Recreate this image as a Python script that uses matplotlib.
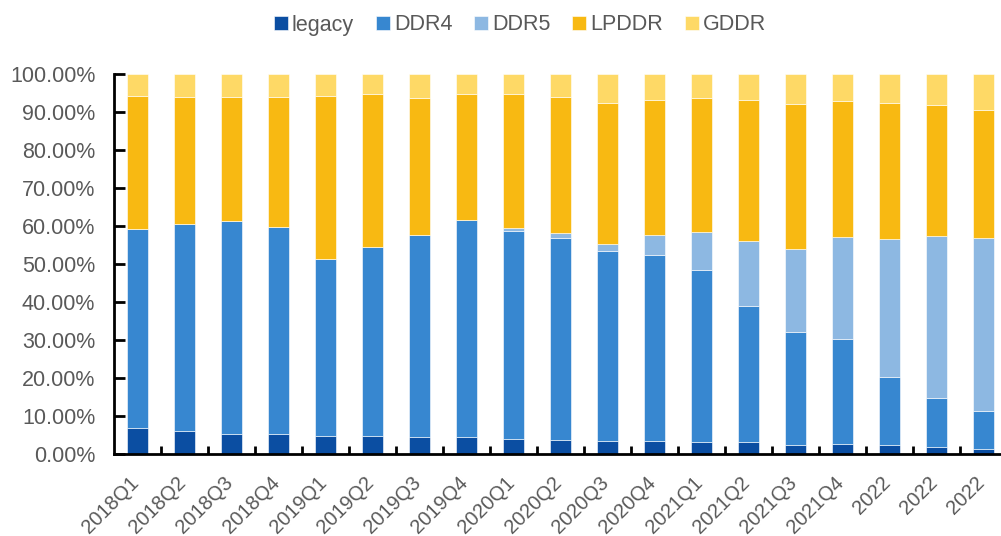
import numpy as np
import matplotlib
matplotlib.use("Agg")
from matplotlib import pyplot as plt
from matplotlib.ticker import FuncFormatter, FixedLocator
from matplotlib.transforms import ScaledTranslation

#------------- 数据 ---------------------#
quarters = ['2018Q1', '2018Q2', '2018Q3', '2018Q4', '2019Q1', '2019Q2', '2019Q3', '2019Q4',
            '2020Q1', '2020Q2', '2020Q3', '2020Q4', '2021Q1', '2021Q2', '2021Q3', '2021Q4',
            '2022', '2022', '2022']
# 累计高度（%）
cum_legacy = [6.8, 6.0, 5.2, 5.2, 4.7, 4.7, 4.3, 4.3, 3.9, 3.5, 3.4, 3.4, 2.9, 2.9, 2.3, 2.6, 2.2, 1.8, 1.1]
cum_ddr4 = [59.1, 60.5, 61.2, 59.7, 51.3, 54.3, 57.6, 61.6, 58.7, 56.9, 53.4, 52.3, 48.3, 38.8, 32.0, 30.1, 20.2, 14.6, 11.2]
cum_ddr5 = [59.1, 60.5, 61.2, 59.7, 51.3, 54.3, 57.6, 61.6, 59.3, 58.0, 55.1, 57.6, 58.3, 56.0, 53.9, 57.0, 56.5, 57.4, 56.9]
cum_lpddr = [94.1, 94.0, 94.0, 94.0, 94.1, 94.8, 93.7, 94.6, 94.6, 94.0, 92.3, 93.2, 93.7, 93.2, 92.1, 93.0, 92.4, 91.7, 90.4]

legacy = np.array(cum_legacy)
ddr4 = np.array(cum_ddr4) - np.array(cum_legacy)
ddr5 = np.array(cum_ddr5) - np.array(cum_ddr4)
lpddr = np.array(cum_lpddr) - np.array(cum_ddr5)
gddr = 100 - np.array(cum_lpddr)

names = ['legacy', 'DDR4', 'DDR5', 'LPDDR', 'GDDR']
series = [legacy, ddr4, ddr5, lpddr, gddr]
colors = ['#0B4EA2', '#3787D0', '#8DB8E2', '#F8B912', '#FED966']

#------------- 画图 ---------------------#
plt.rcParams['font.family'] = ['Liberation Sans', 'DejaVu Sans']
txt = '#595959'

fig = plt.figure(figsize=(10.01, 5.36), dpi=100)
ax = fig.add_axes([114 / 1001, 82.5 / 536, 887 / 1001, 379.5 / 536])

x = np.arange(len(quarters))
bottom = np.zeros(len(quarters))
for name, vals, c in zip(names, series, colors):
    ax.bar(x, vals, 0.46, bottom=bottom, color=c, label=name, edgecolor='white', linewidth=0.4)
    bottom = bottom + vals

ax.set_ylim(0, 100)
ax.set_xlim(-0.5, -0.5 + 887 / 47.0)
ax.set_yticks(np.arange(0, 101, 10))
ax.yaxis.set_major_formatter(FuncFormatter(lambda v, p: '%.2f%%' % v))

# x轴：刻度在类别之间，标签在中间
ax.xaxis.set_major_locator(FixedLocator(x[:-1] + 0.5))
ax.xaxis.set_major_formatter(FuncFormatter(lambda v, p: ''))
ax.set_xticks(x, minor=True)
ax.set_xticklabels(quarters, minor=True, rotation=45, ha='right', va='center', rotation_mode='anchor')
ax.tick_params(axis='x', which='minor', length=0, labelsize=14.5, labelcolor=txt, pad=19)
ax.tick_params(axis='x', which='major', direction='in', length=6, width=2, color='black')
ax.tick_params(axis='y', direction='in', length=8, width=2, labelsize=15.5, labelcolor=txt, pad=13.5)
# 标签稍微左移
shift = ScaledTranslation(-2 / 100, 0, fig.dpi_scale_trans)
for lab in ax.get_xticklabels(minor=True):
    lab.set_transform(lab.get_transform() + shift)

for s in ['top', 'right']:
    ax.spines[s].set_visible(False)
for s in ['left', 'bottom']:
    ax.spines[s].set_linewidth(2)
    ax.spines[s].set_color('black')

fig.legend(loc='center', bbox_to_anchor=(520 / 1001, 1 - 25 / 536), ncol=5, frameon=False,
           fontsize=15.5, labelcolor=txt, handlelength=0.65, handleheight=0.65,
           handletextpad=0.2, columnspacing=1.0)

fig.savefig('out.png', dpi=100)
